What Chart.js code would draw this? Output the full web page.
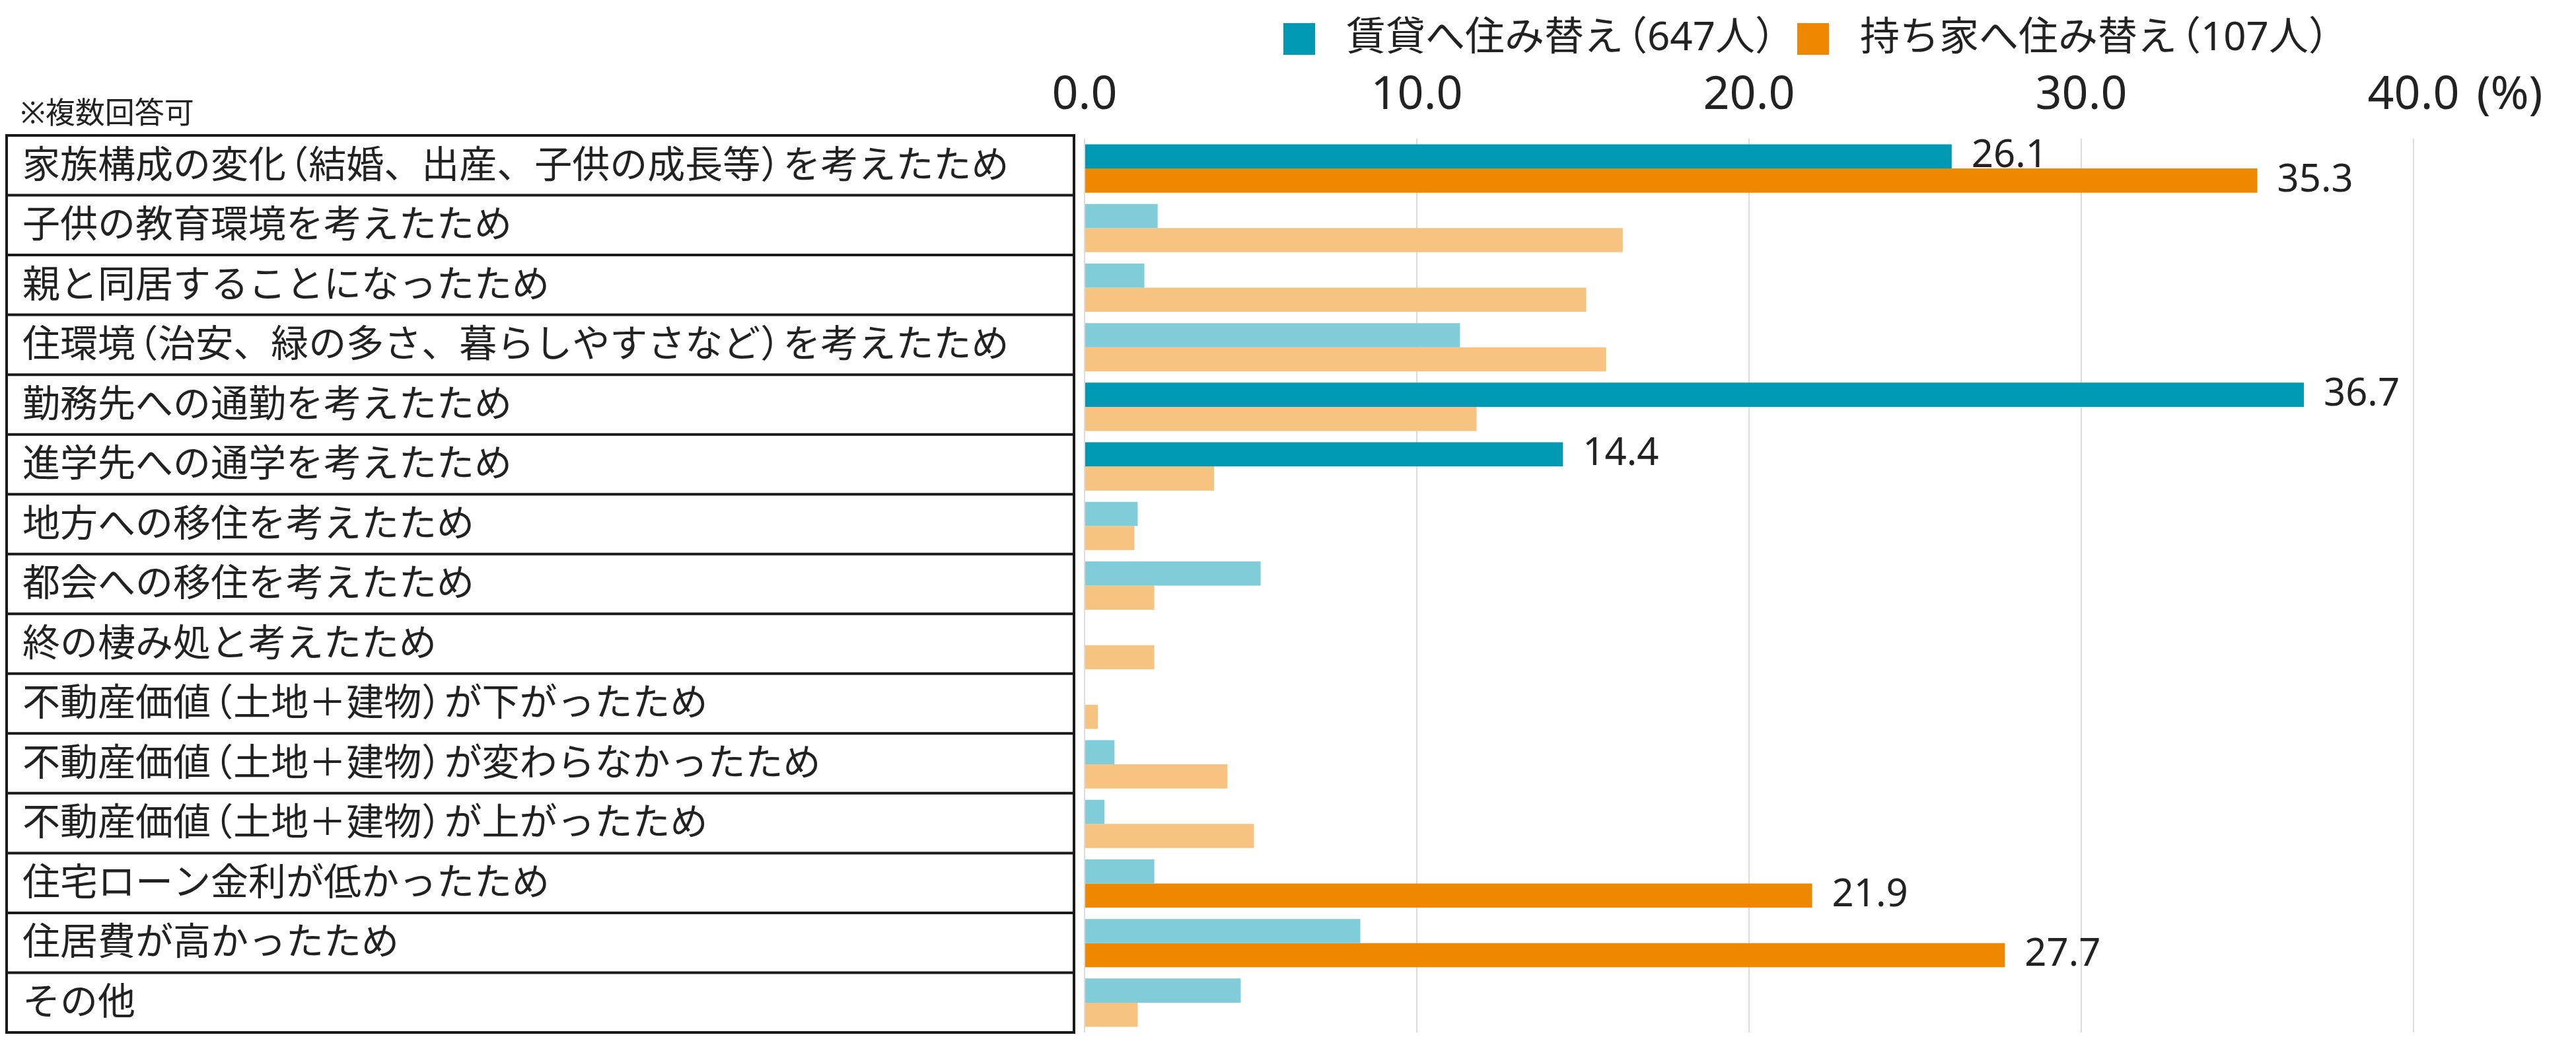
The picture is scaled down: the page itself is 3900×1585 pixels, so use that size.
<!DOCTYPE html>
<html lang="ja">
<head>
<meta charset="utf-8">
<title>住み替えの理由</title>
<script src="https://cdn.jsdelivr.net/npm/chart.js@4.4.1/dist/chart.umd.min.js"></script>
<style>
  html, body { margin: 0; padding: 0; background: #fff; }
  #wrap { width: 3900px; height: 1585px; position: relative; }
</style>
</head>
<body>
<div id="wrap"><canvas id="reasonChart"></canvas></div>
<script>
// 住み替えの理由（複数回答可）
const reasons = [
    '家族構成の変化（結婚、出産、子供の成長等）を考えたため',
    '子供の教育環境を考えたため',
    '親と同居することになったため',
    '住環境（治安、緑の多さ、暮らしやすさなど）を考えたため',
    '勤務先への通勤を考えたため',
    '進学先への通学を考えたため',
    '地方への移住を考えたため',
    '都会への移住を考えたため',
    '終の棲み処と考えたため',
    '不動産価値（土地＋建物）が下がったため',
    '不動産価値（土地＋建物）が変わらなかったため',
    '不動産価値（土地＋建物）が上がったため',
    '住宅ローン金利が低かったため',
    '住居費が高かったため',
    'その他'
];
const seriesNames = ['賃貸へ住み替え（647人）', '持ち家へ住み替え（107人）'];
const rentValues = [26.1, 2.2, 1.8, 11.3, 36.7, 14.4, 1.6, 5.3, 0, 0, 0.9, 0.6, 2.1, 8.3, 4.7];
const ownValues = [35.3, 16.2, 15.1, 15.7, 11.8, 3.9, 1.5, 2.1, 2.1, 0.4, 4.3, 5.1, 21.9, 27.7, 1.6];
// 数値ラベルを付けて強調する項目
const rentLabeled = [0, 4, 5];
const ownLabeled = [0, 12, 13];
const xTicks = [0, 10, 20, 30, 40];
const noteText = '※複数回答可';
const unitText = '(%)';

const TEAL = '#0099b3';
const TEAL_LIGHT = '#80ccd9';
const ORANGE = '#ee8800';
const ORANGE_LIGHT = '#f6c480';
const INK = '#222222';
const FONT = "'Noto Sans', 'Noto Sans CJK JP', sans-serif";

Chart.defaults.font.family = FONT;
Chart.defaults.color = INK;

// 全角カッコを詰めて描く（プロポーショナル風）
function drawTight(ctx, text, x, y, size) {
    let run = '';
    const flush = () => {
        if (run) {
            ctx.fillText(run, x, y);
            x += ctx.measureText(run).width;
            run = '';
        }
    };
    for (const ch of text) {
        if (ch === '（') {
            flush();
            ctx.fillText(ch, x - size * 0.4, y);
            x += size * 0.6;
        } else if (ch === '）') {
            flush();
            ctx.fillText(ch, x, y);
            x += size * 0.6;
        } else {
            run += ch;
        }
    }
    flush();
    return x;
}

// 左側の表（項目名の枠）
const tablePlugin = {
    id: 'reasonTable',
    afterDraw(chart) {
        const { ctx, chartArea } = chart;
        const top = chartArea.top - 5;
        const bottom = chartArea.bottom;
        const rowH = (bottom - top) / reasons.length;
        const left = 10, right = 1626;
        ctx.save();
        ctx.fillStyle = INK;
        ctx.font = '45px ' + FONT;
        ctx.textBaseline = 'middle';
        ctx.textAlign = 'left';
        ctx.fillText(noteText, 31, 174);

        ctx.strokeStyle = '#1a1a1a';
        ctx.lineWidth = 4;
        ctx.strokeRect(left, top, right - left, bottom - top);
        for (let i = 1; i < reasons.length; i++) {
            const y = top + rowH * i;
            ctx.beginPath();
            ctx.moveTo(left, y);
            ctx.lineTo(right, y);
            ctx.stroke();
        }
        ctx.font = '57px ' + FONT;
        reasons.forEach((r, i) => {
            drawTight(ctx, r, 34, top + rowH * (i + 0.5) + 2, 57);
        });
        ctx.restore();
    }
};

// 強調した棒の数値
const valueLabelPlugin = {
    id: 'valueLabels',
    afterDatasetsDraw(chart) {
        const { ctx } = chart;
        const lists = [rentLabeled, ownLabeled];
        ctx.save();
        ctx.fillStyle = INK;
        ctx.font = '58px ' + FONT;
        ctx.textBaseline = 'middle';
        ctx.textAlign = 'left';
        chart.data.datasets.forEach((ds, d) => {
            const meta = chart.getDatasetMeta(d);
            lists[d].forEach(i => {
                const el = meta.data[i];
                ctx.fillText(ds.data[i].toFixed(1), el.x + 30, el.y);
            });
        });
        ctx.restore();
    }
};

// 凡例と単位
const legendPlugin = {
    id: 'topLegend',
    afterDraw(chart) {
        const { ctx, scales } = chart;
        const colors = [TEAL, ORANGE];
        ctx.save();
        ctx.font = '60px ' + FONT;
        ctx.textBaseline = 'middle';
        ctx.textAlign = 'left';
        let x = 1943;
        seriesNames.forEach((name, i) => {
            ctx.fillStyle = colors[i];
            ctx.fillRect(x, 35, 48, 48);
            ctx.fillStyle = INK;
            const end = drawTight(ctx, name, x + 95, 59, 60);
            x = end + 28;
        });

        // 目盛り「40.0」の右に（%）
        const xs = scales.x;
        const last = xTicks[xTicks.length - 1];
        ctx.font = '70px ' + FONT;
        const w = ctx.measureText(last.toFixed(1)).width;
        ctx.fillText(unitText, xs.getPixelForValue(last) + w / 2 + 26, 145);
        ctx.restore();
    }
};

new Chart(document.getElementById('reasonChart'), {
    type: 'bar',
    data: {
        labels: reasons,
        datasets: [
            {
                label: seriesNames[0],
                data: rentValues,
                backgroundColor: rentValues.map((v, i) => rentLabeled.includes(i) ? TEAL : TEAL_LIGHT),
                borderWidth: 0
            },
            {
                label: seriesNames[1],
                data: ownValues,
                backgroundColor: ownValues.map((v, i) => ownLabeled.includes(i) ? ORANGE : ORANGE_LIGHT),
                borderWidth: 0
            }
        ]
    },
    options: {
        indexAxis: 'y',
        responsive: true,
        maintainAspectRatio: false,
        animation: false,
        devicePixelRatio: 1,
        categoryPercentage: 0.81,
        barPercentage: 1.0,
        layout: { padding: { top: 97, right: 246, bottom: 22, left: 0 } },
        plugins: {
            legend: { display: false },
            tooltip: { enabled: false }
        },
        scales: {
            x: {
                type: 'linear',
                position: 'top',
                min: xTicks[0],
                max: xTicks[xTicks.length - 1],
                afterBuildTicks: (scale) => { scale.ticks = xTicks.map(v => ({ value: v })); },
                afterFit: (scale) => { scale.height = 113; },
                ticks: {
                    callback: (v) => Number(v).toFixed(1),
                    font: { size: 70 },
                    color: INK,
                    padding: 23,
                    maxRotation: 0
                },
                grid: { color: '#dcdcdc', lineWidth: 2, drawTicks: false },
                border: { display: false }
            },
            y: {
                afterFit: (scale) => { scale.width = 1642; },
                ticks: { display: false },
                grid: { display: false },
                border: { display: false }
            }
        }
    },
    plugins: [tablePlugin, valueLabelPlugin, legendPlugin]
});
</script>
</body>
</html>
